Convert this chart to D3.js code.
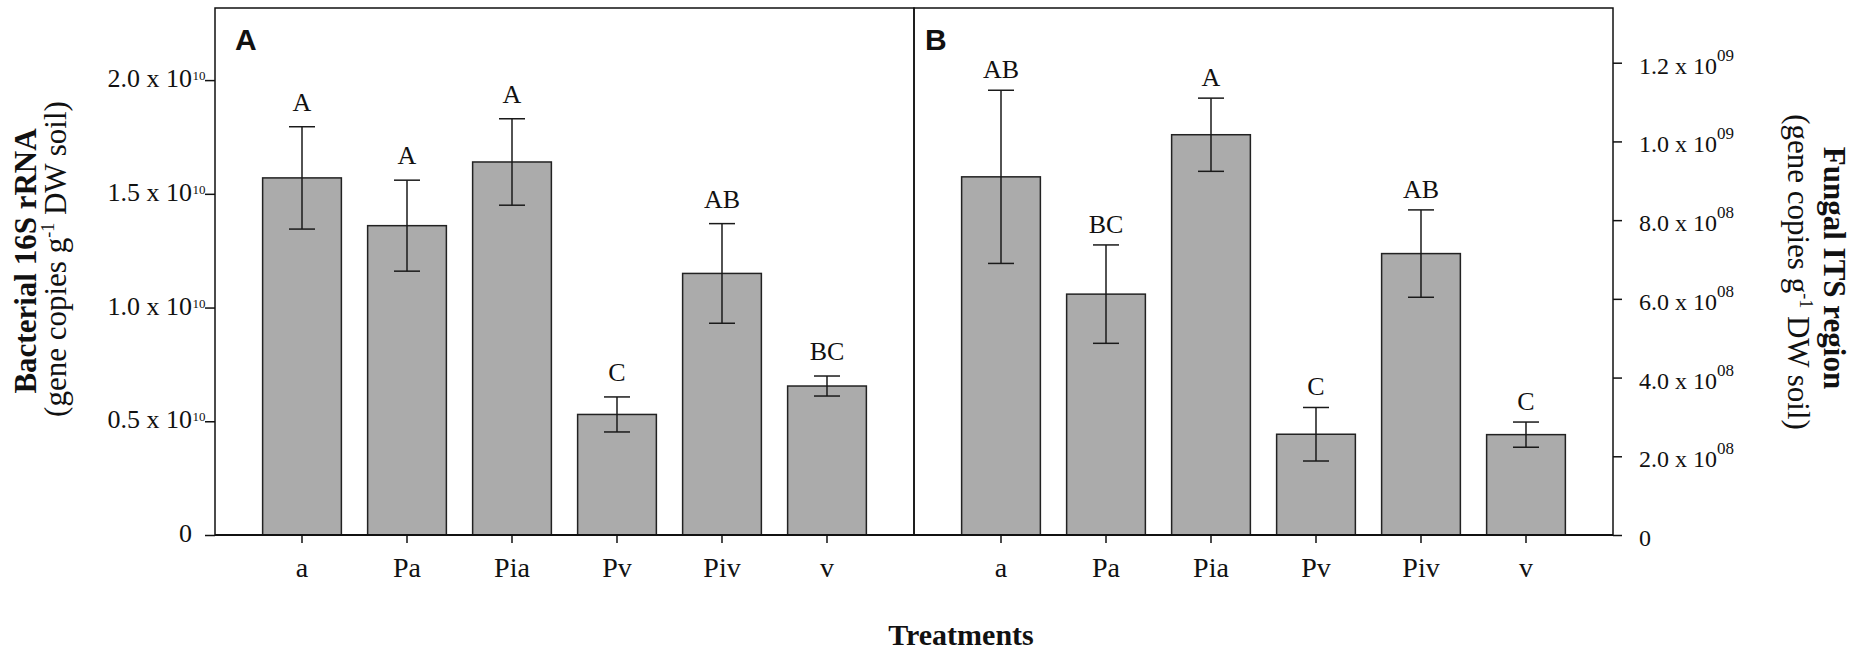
<!DOCTYPE html>
<html>
<head>
  <script src="https://d3js.org/d3.v7.min.js" charset="utf-8"></script>
  <style>
    body { margin: 0; background: #fff; }
    svg text { font-family: "Liberation Serif", "Times New Roman", serif; fill: #111; }
    .axis line { stroke: #111; stroke-width: 1.5; }
    .axis path { display: none; }
  </style>
</head>
<body>
<script>
  // treatments on the x axis (same for both panels)
  var treatments = ["a", "Pa", "Pia", "Pv", "Piv", "v"];

  // panel A: bacterial 16S rRNA, in units of 10^10 gene copies
  var bacMean = [1.57, 1.36, 1.64, 0.53, 1.15, 0.655];
  var bacSE   = [0.225, 0.20, 0.19, 0.077, 0.219, 0.044];
  var bacLetters = ["A", "A", "A", "C", "AB", "BC"];

  // panel B: fungal ITS region, in units of 10^9 gene copies
  var funMean = [0.91, 0.612, 1.017, 0.256, 0.715, 0.255];
  var funSE   = [0.22, 0.125, 0.093, 0.068, 0.111, 0.032];
  var funLetters = ["AB", "BC", "A", "C", "AB", "C"];

  // tick values and their labels
  var bacTicks = [0, 0.5, 1.0, 1.5, 2.0];
  var bacTickText = ["0", "0.5 x 10", "1.0 x 10", "1.5 x 10", "2.0 x 10"];
  var bacTickExp  = ["", "10", "10", "10", "10"];
  var funTicks = [0, 0.2, 0.4, 0.6, 0.8, 1.0, 1.2];
  var funTickText = ["0", "2.0 x 10", "4.0 x 10", "6.0 x 10", "8.0 x 10", "1.0 x 10", "1.2 x 10"];
  var funTickExp  = ["", "08", "08", "08", "08", "09", "09"];

  var w = 1852, h = 655,
      plotTop = 8, plotBottom = 535,
      panelW = 699,
      leftX = 215, midX = leftX + panelW, rightX = midX + panelW;

  var svg = d3.select("body").append("svg")
      .attr("width", w)
      .attr("height", h);

  var yA = d3.scaleLinear().domain([0, 2.317]).range([plotBottom, plotTop]);
  var yB = d3.scaleLinear().domain([0, 1.339]).range([plotBottom, plotTop]);

  function band(x0) {
    return d3.scaleBand()
        .domain(treatments)
        .range([x0, x0 + panelW])
        .paddingInner(0.25)
        .paddingOuter(0.4536);
  }
  var xA = band(leftX), xB = band(midX);

  var panels = [
    { x0: leftX, x: xA, y: yA, mean: bacMean, se: bacSE, letters: bacLetters, tag: "A", tagDx: 20, gap: 16 },
    { x0: midX,  x: xB, y: yB, mean: funMean, se: funSE, letters: funLetters, tag: "B", tagDx: 11, gap: 12 }
  ];

  panels.forEach(function (p) {
    var g = svg.append("g");

    // x axis ticks + category labels
    g.append("g")
        .attr("class", "axis")
        .attr("transform", "translate(0," + plotBottom + ")")
        .call(d3.axisBottom(p.x).tickSize(8).tickSizeOuter(0))
        .call(function (a) {
          a.selectAll("text")
              .attr("y", 42)
              .attr("dy", null)
              .style("font-size", "28px")
              .style("font-family", "'Liberation Serif', serif")
              .attr("fill", "#111");
        });

    var data = treatments.map(function (t, i) {
      return { t: t, m: p.mean[i], se: p.se[i], l: p.letters[i] };
    });

    // bars
    g.selectAll("rect.bar")
        .data(data)
        .enter().append("rect")
        .attr("class", "bar")
        .attr("x", function (d) { return p.x(d.t); })
        .attr("width", p.x.bandwidth())
        .attr("y", function (d) { return p.y(d.m); })
        .attr("height", function (d) { return p.y(0) - p.y(d.m); })
        .attr("fill", "#ababab")
        .attr("stroke", "#222")
        .attr("stroke-width", 1.5);

    // error bars
    var cx = function (d) { return p.x(d.t) + p.x.bandwidth() / 2; };
    var err = g.selectAll("g.err")
        .data(data)
        .enter().append("g")
        .attr("class", "err")
        .attr("stroke", "#1a1a1a")
        .attr("stroke-width", 1.5);
    err.append("line")
        .attr("x1", cx).attr("x2", cx)
        .attr("y1", function (d) { return p.y(d.m + d.se); })
        .attr("y2", function (d) { return p.y(d.m - d.se); });
    err.append("line")
        .attr("x1", function (d) { return cx(d) - 13; })
        .attr("x2", function (d) { return cx(d) + 13; })
        .attr("y1", function (d) { return p.y(d.m + d.se); })
        .attr("y2", function (d) { return p.y(d.m + d.se); });
    err.append("line")
        .attr("x1", function (d) { return cx(d) - 13; })
        .attr("x2", function (d) { return cx(d) + 13; })
        .attr("y1", function (d) { return p.y(d.m - d.se); })
        .attr("y2", function (d) { return p.y(d.m - d.se); });

    // significance letters
    g.selectAll("text.letter")
        .data(data)
        .enter().append("text")
        .attr("class", "letter")
        .attr("x", cx)
        .attr("y", function (d) { return p.y(d.m + d.se) - p.gap; })
        .attr("text-anchor", "middle")
        .style("font-size", "26px")
        .text(function (d) { return d.l; });

    // panel frame
    g.append("rect")
        .attr("x", p.x0).attr("y", plotTop)
        .attr("width", panelW).attr("height", plotBottom - plotTop)
        .attr("fill", "none")
        .attr("stroke", "#111")
        .attr("stroke-width", 1.5);

    // panel tag
    g.append("text")
        .attr("x", p.x0 + p.tagDx)
        .attr("y", 50)
        .style("font-family", "'Liberation Sans', Arial, sans-serif")
        .style("font-weight", "bold")
        .style("font-size", "30px")
        .text(p.tag);
  });

  // thicker baseline
  svg.append("line")
      .attr("x1", leftX).attr("x2", rightX)
      .attr("y1", plotBottom).attr("y2", plotBottom)
      .attr("stroke", "#111")
      .attr("stroke-width", 2.2);

  // left y axis
  svg.append("g")
      .attr("class", "axis")
      .attr("transform", "translate(" + leftX + ",0)")
      .call(d3.axisLeft(yA).tickValues(bacTicks).tickSize(10).tickSizeOuter(0).tickFormat(""));

  var lt = svg.selectAll("g.ltick")
      .data(bacTicks)
      .enter().append("g")
      .attr("class", "ltick")
      .attr("transform", function (d) { return "translate(" + leftX + "," + yA(d) + ")"; });
  lt.append("text")
      .attr("x", -23).attr("y", 7)
      .attr("text-anchor", "end")
      .style("font-size", "26px")
      .text(function (d, i) { return bacTickText[i]; });
  lt.append("text")
      .attr("x", -22.5).attr("y", 0)
      .style("font-size", "13px")
      .text(function (d, i) { return bacTickExp[i]; });

  // right y axis
  svg.append("g")
      .attr("class", "axis")
      .attr("transform", "translate(" + rightX + ",0)")
      .call(d3.axisRight(yB).tickValues(funTicks).tickSize(9).tickSizeOuter(0).tickFormat(""));

  var rt = svg.selectAll("g.rtick")
      .data(funTicks)
      .enter().append("g")
      .attr("class", "rtick")
      .attr("transform", function (d) { return "translate(" + rightX + "," + yB(d) + ")"; });
  var rtext = rt.append("text")
      .attr("x", 26).attr("y", 11)
      .style("font-size", "24px");
  rtext.append("tspan")
      .text(function (d, i) { return funTickText[i]; });
  rtext.append("tspan")
      .attr("dy", -13)
      .style("font-size", "17px")
      .text(function (d, i) { return funTickExp[i]; });

  // axis titles
  svg.append("text")
      .attr("transform", "translate(36,261) rotate(-90)")
      .attr("text-anchor", "middle")
      .style("font-weight", "bold")
      .style("font-size", "31px")
      .text("Bacterial 16S rRNA");

  var lsub = svg.append("text")
      .attr("transform", "translate(66,259) rotate(-90)")
      .attr("text-anchor", "middle")
      .style("font-size", "31px");
  lsub.append("tspan").text("(gene copies g");
  lsub.append("tspan").attr("dy", -12).style("font-size", "18px").text("-1");
  lsub.append("tspan").attr("dy", 12).text(" DW soil)");

  svg.append("text")
      .attr("transform", "translate(1824,268) rotate(90)")
      .attr("text-anchor", "middle")
      .style("font-weight", "bold")
      .style("font-size", "31px")
      .text("Fungal ITS region");

  var rsub = svg.append("text")
      .attr("transform", "translate(1788,272) rotate(90)")
      .attr("text-anchor", "middle")
      .style("font-size", "31px");
  rsub.append("tspan").text("(gene copies g");
  rsub.append("tspan").attr("dy", -12).style("font-size", "18px").text("-1");
  rsub.append("tspan").attr("dy", 12).text(" DW soil)");

  svg.append("text")
      .attr("x", 961).attr("y", 645)
      .attr("text-anchor", "middle")
      .style("font-weight", "bold")
      .style("font-size", "30px")
      .text("Treatments");
</script>
</body>
</html>
